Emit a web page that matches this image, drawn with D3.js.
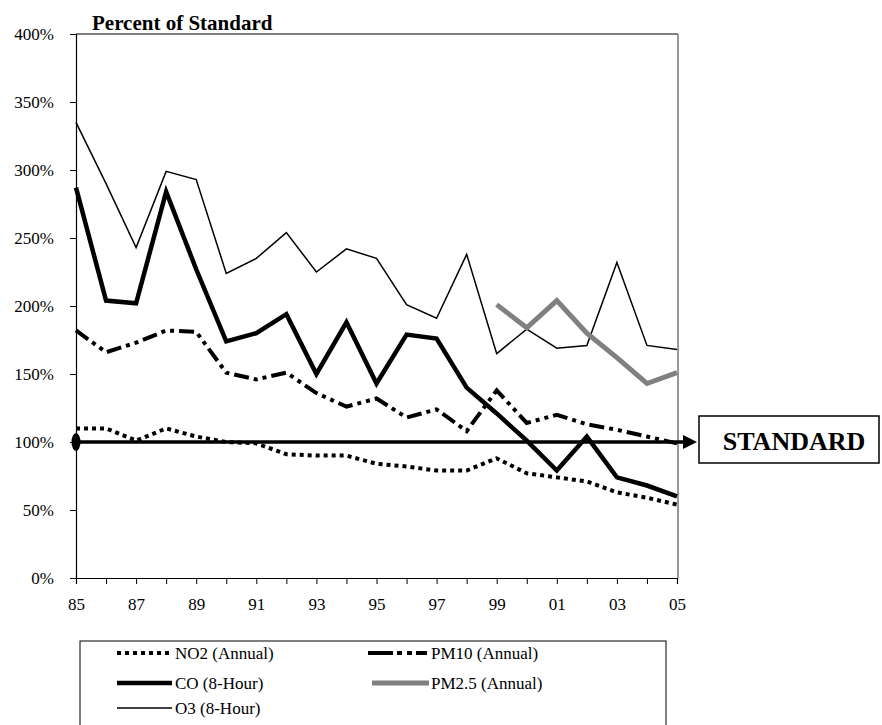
<!DOCTYPE html>
<html>
<head>
<meta charset="utf-8">
<script src="https://cdn.jsdelivr.net/npm/d3@7"></script>
<style>
  body { margin: 0; background: #fff; }
  text { font-family: "Liberation Serif", "Times New Roman", serif; }
</style>
</head>
<body>
<div class="chart"></div>
<script>
// years 1985..2005, percent of standard
const years = d3.range(1985, 2006);
const no2 = [110, 110, 101, 110, 104, 100, 99, 91, 90, 90, 84, 82, 79, 79, 88, 77, 74, 71, 63, 59, 54];
const pm10 = [182, 166, 173, 182, 181, 151, 146, 151, 136, 126, 132, 118, 124, 108, 138, 114, 120, 113, 109, 104, 99];
const co = [287, 204, 202, 284, 227, 174, 180, 194, 150, 188, 143, 179, 176, 140, 121, 101, 79, 104, 74, 68, 60];
const pm25Years = d3.range(1999, 2006);
const pm25 = [201, 184, 204, 180, 162, 143, 151];
const o3 = [335, 290, 243, 299, 293, 224, 235, 254, 225, 242, 235, 201, 191, 238, 165, 183, 169, 171, 232, 171, 168];
const yTicks = [0, 50, 100, 150, 200, 250, 300, 350, 400];
const xLabelYears = [1985, 1987, 1989, 1991, 1993, 1995, 1997, 1999, 2001, 2003, 2005];
const standard = 100;

const width = 882, height = 725;
const plotL = 76, plotR = 677, plotT = 34, plotB = 578;

const svg = d3.select(".chart").append("svg")
    .attr("width", width)
    .attr("height", height);

const x = d3.scaleLinear().domain([1985, 2005]).range([plotL, plotR]);
const y = d3.scaleLinear().domain([0, 400]).range([plotB, plotT]);

// plot border (top + right)
svg.append("line").attr("x1", plotL).attr("x2", plotR + 1).attr("y1", plotT).attr("y2", plotT)
    .attr("stroke", "#000").attr("stroke-width", 1.2);
svg.append("line").attr("x1", plotR + 1).attr("x2", plotR + 1).attr("y1", plotT).attr("y2", plotB)
    .attr("stroke", "#777").attr("stroke-width", 1.5);

// y axis
const yAxis = svg.append("g")
    .attr("transform", `translate(${plotL},0)`)
    .call(d3.axisLeft(y).tickValues(yTicks).tickSize(6).tickPadding(16).tickFormat(d => d + "%"));
yAxis.select(".domain").attr("stroke-width", 1.2);
yAxis.selectAll("text").style("font-size", "17px").style("font-family", "Liberation Serif").attr("fill", "#000");

// x axis
const xAxis = svg.append("g")
    .attr("transform", `translate(0,${plotB})`)
    .call(d3.axisBottom(x).tickValues(years).tickSize(6).tickPadding(14)
        .tickFormat(d => xLabelYears.includes(d) ? String(d).slice(2) : ""));
xAxis.select(".domain").attr("stroke-width", 1.2);
xAxis.selectAll("text").style("font-size", "17px").style("font-family", "Liberation Serif").attr("fill", "#000");

svg.append("text")
    .attr("x", 92).attr("y", 30)
    .style("font-size", "21px").style("font-weight", "bold")
    .text("Percent of Standard");

const line = d3.line().x(d => x(d[0])).y(d => y(d[1]));

const series = [
    { name: "O3 (8-Hour)", yrs: years, vals: o3, color: "#000", w: 1.5, dash: null },
    { name: "NO2 (Annual)", yrs: years, vals: no2, color: "#000", w: 4, dash: "4,4" },
    { name: "PM10 (Annual)", yrs: years, vals: pm10, color: "#000", w: 4, dash: "15,5,4,5,4,5" },
    { name: "CO (8-Hour)", yrs: years, vals: co, color: "#000", w: 4.5, dash: null },
    { name: "PM2.5 (Annual)", yrs: pm25Years, vals: pm25, color: "#808080", w: 5, dash: null }
];

// standard line with arrow
svg.append("defs").append("marker")
    .attr("id", "arrow").attr("viewBox", "0 0 10 10")
    .attr("refX", 0).attr("refY", 5)
    .attr("markerWidth", 4).attr("markerHeight", 4)
    .attr("orient", "auto")
    .append("path").attr("d", "M0,0L10,5L0,10Z").attr("fill", "#000");

svg.append("line")
    .attr("x1", plotL).attr("x2", 683)
    .attr("y1", y(standard)).attr("y2", y(standard))
    .attr("stroke", "#000").attr("stroke-width", 3.5)
    .attr("marker-end", "url(#arrow)");
svg.append("ellipse")
    .attr("cx", plotL).attr("cy", y(standard))
    .attr("rx", 4.5).attr("ry", 9).attr("fill", "#000");

series.forEach(s => {
    svg.append("path")
        .datum(s.yrs.map((yr, i) => [yr, s.vals[i]]))
        .attr("d", line)
        .attr("fill", "none")
        .attr("stroke", s.color)
        .attr("stroke-width", s.w)
        .attr("stroke-linejoin", "miter")
        .attr("stroke-dasharray", s.dash);
});

// STANDARD box
svg.append("rect")
    .attr("x", 699).attr("y", 416).attr("width", 180).attr("height", 47)
    .attr("fill", "#fff").attr("stroke", "#000").attr("stroke-width", 1.5);
svg.append("text")
    .attr("x", 794).attr("y", 450).attr("text-anchor", "middle")
    .style("font-size", "26px").style("font-weight", "bold")
    .text("STANDARD");

// legend
const legend = svg.append("g");
legend.append("rect")
    .attr("x", 80).attr("y", 641).attr("width", 586).attr("height", 100)
    .attr("fill", "#fff").attr("stroke", "#000").attr("stroke-width", 1);

const legendItems = [
    { s: series[1], x: 117, x2: 172, y: 653 },
    { s: series[2], x: 368, x2: 427, y: 653 },
    { s: series[3], x: 117, x2: 172, y: 683 },
    { s: series[4], x: 372, x2: 429, y: 683 },
    { s: series[0], x: 117, x2: 172, y: 708 }
];
legendItems.forEach(it => {
    legend.append("line")
        .attr("x1", it.x).attr("x2", it.x2)
        .attr("y1", it.y).attr("y2", it.y)
        .attr("stroke", it.s.color)
        .attr("stroke-width", it.s.w)
        .attr("stroke-dasharray", it.s.name.startsWith("PM10") ? "25,4,5,5,5,4,20" : it.s.dash);
    legend.append("text")
        .attr("x", it.s.name.startsWith("PM") ? 431 : 175)
        .attr("y", it.y + 6)
        .style("font-size", "17px")
        .text(it.s.name);
});
</script>
</body>
</html>
